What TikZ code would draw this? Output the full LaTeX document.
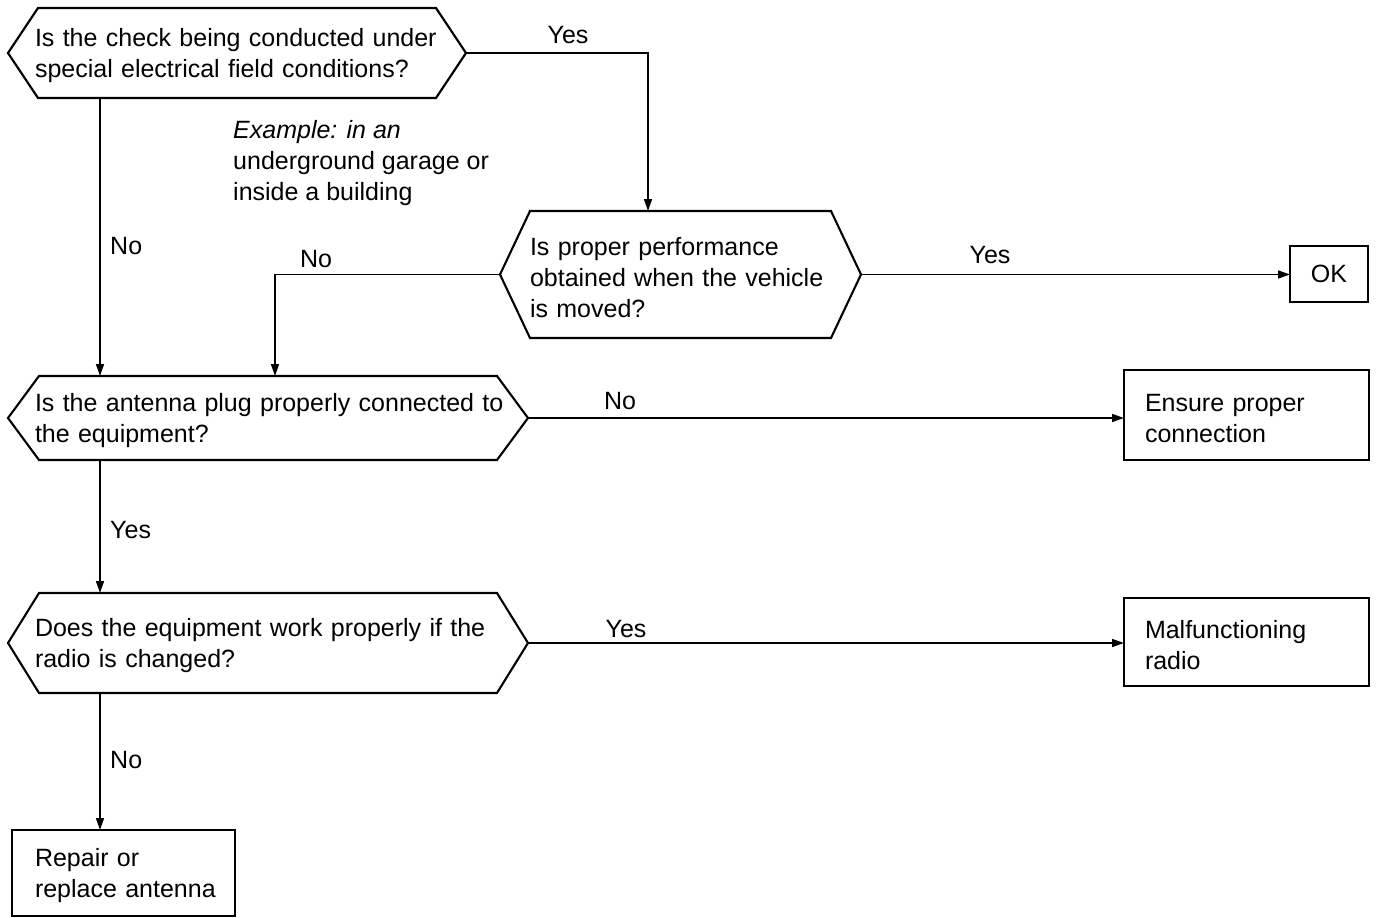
\documentclass[tikz,border=0pt]{standalone}
\usepackage{fontspec}
\setmainfont{Liberation Sans}
\usetikzlibrary{arrows.meta,calc}

% hexagonal decision frame drawn round a (borderless) rectangular node
\newcommand\hexframe[2]{%
  \draw[hexline] (#1.west) -- ($(#1.north west)+(#2,0)$) -- ($(#1.north east)+(-#2,0)$)
    -- (#1.east) -- ($(#1.south east)+(-#2,0)$) -- ($(#1.south west)+(#2,0)$) -- cycle;}
% one unbreakable text line
\newcommand\tl[1]{\mbox{#1}}

\tikzset{
  lowered/.style={execute at begin node={\rule{0pt}{24pt}}},
  question/.style={rectangle, draw=none, inner sep=0pt, outer sep=0pt, align=left, lowered},
  hexline/.style={line width=2.1pt, line join=miter},
  action/.style={rectangle, draw, line width=2.8pt, inner sep=0pt, outer sep=0pt, align=left},
  conn/.style={line width=1.6pt, -{Triangle[length=12pt,width=8pt]}},
  lbl/.style={inner sep=0pt}
}

\begin{document}
\begin{tikzpicture}[x=1pt,y=-1pt,font=\fontsize{25}{31}\selectfont]
\useasboundingbox (0,0) rectangle (1377,918);

% decisions
\node[question, minimum width=458pt, minimum height=90pt, text width=404pt] (q1) at (237,53)
  {\tl{Is the check being conducted under}\\\tl{special electrical field conditions?}};
\node[question, minimum width=361pt, minimum height=127pt, text width=301pt] (q2) at (680.5,274.5)
  {\tl{Is proper performance}\\\tl{obtained when the vehicle}\\\tl{is moved?}};
\node[question, minimum width=520pt, minimum height=84pt, text width=466pt] (q3) at (268,418)
  {\tl{Is the antenna plug properly connected to}\\\tl{the equipment?}};
\node[question, minimum width=520pt, minimum height=100pt, text width=466pt] (q4) at (268,643)
  {\tl{Does the equipment work properly if the}\\\tl{radio is changed?}};
\hexframe{q1}{30}
\hexframe{q2}{30}
\hexframe{q3}{31}
\hexframe{q4}{31}

% outcomes
\node[action, minimum width=78pt, minimum height=56pt, align=center] (ok) at (1329,274) {OK};
\node[action, lowered, minimum width=245pt, minimum height=90pt, text width=203pt] (ensure) at (1246.5,415)
  {\tl{Ensure proper}\\\tl{connection}};
\node[action, lowered, minimum width=245pt, minimum height=88pt, text width=203pt] (malf) at (1246.5,642)
  {\tl{Malfunctioning}\\\tl{radio}};
\node[action, lowered, minimum width=223pt, minimum height=86pt, text width=177pt] (repair) at (123.5,873)
  {\tl{Repair or}\\\tl{replace antenna}};

% note
\node[lbl, anchor=west, align=left] (note) at (233,163)
  {\itshape Example: in an\\underground garage or\\inside a building};

% connectors
\draw[conn] (q1.east) -| ([xshift=-32.5pt]q2.north);
\draw[conn] ([xshift=92pt]q1.south west) -- ([xshift=92pt]q3.north west);
\draw[conn] (q2.west) -| ([xshift=267pt]q3.north west);
\draw[conn] (q2.east) -- (q2.east -| ok.west);
\draw[conn] (q3.east) -- (q3.east -| ensure.west);
\draw[conn] ([xshift=92pt]q3.south west) -- ([xshift=92pt]q4.north west);
\draw[conn] (q4.east) -- (q4.east -| malf.west);
\draw[conn] ([xshift=92pt]q4.south west) -- ([xshift=88pt]repair.north west);

% branch labels
\node[lbl] (y1) at (568,35) {Yes};
\node[lbl, anchor=west] (n1) at (110,246) {No};
\node[lbl] (n2) at (316,259) {No};
\node[lbl] (y2) at (990,255) {Yes};
\node[lbl] (n3) at (620,401) {No};
\node[lbl, anchor=west] (y3) at (110,530) {Yes};
\node[lbl] (y4) at (626,629) {Yes};
\node[lbl, anchor=west] (n4) at (110,760) {No};
\end{tikzpicture}
\end{document}
